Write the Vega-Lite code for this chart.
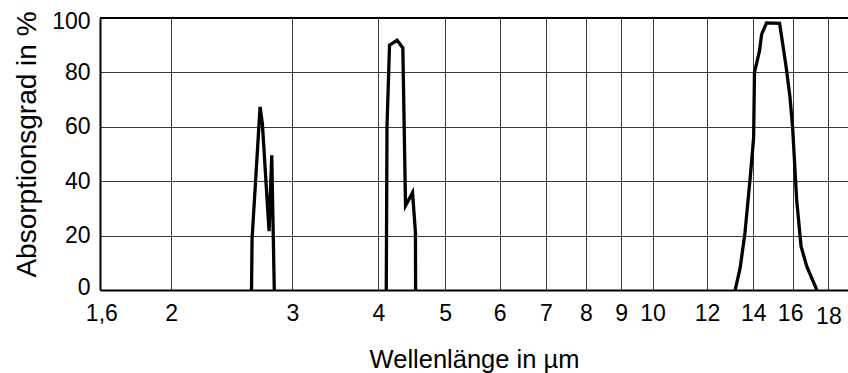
{
  "$schema": "https://vega.github.io/schema/vega-lite/v6.json",
  "autosize": {"type": "none"},
  "padding": {"left": 100, "top": 18, "right": 0, "bottom": 83},
  "width": 748,
  "height": 272,
  "background": "white",
  "config": {
    "view": {"stroke": null},
    "font": "Liberation Sans",
    "axis": {"labelFont": "Liberation Sans", "titleFont": "Liberation Sans", "labelColor": "black", "titleColor": "black", "titleFontWeight": "normal"}
  },
  "data": {
    "values": [
      {"band": "a", "wavelength": 2.617, "absorption": 0},
      {"band": "a", "wavelength": 2.622, "absorption": 19},
      {"band": "a", "wavelength": 2.693, "absorption": 67.3},
      {"band": "a", "wavelength": 2.714, "absorption": 61},
      {"band": "a", "wavelength": 2.775, "absorption": 21.6},
      {"band": "a", "wavelength": 2.800, "absorption": 49.5},
      {"band": "a", "wavelength": 2.824, "absorption": 0},
      {"band": "b", "wavelength": 4.106, "absorption": 0},
      {"band": "b", "wavelength": 4.116, "absorption": 60},
      {"band": "b", "wavelength": 4.151, "absorption": 90},
      {"band": "b", "wavelength": 4.257, "absorption": 91.8},
      {"band": "b", "wavelength": 4.340, "absorption": 89},
      {"band": "b", "wavelength": 4.379, "absorption": 31},
      {"band": "b", "wavelength": 4.483, "absorption": 35.8},
      {"band": "b", "wavelength": 4.527, "absorption": 21},
      {"band": "b", "wavelength": 4.529, "absorption": 0},
      {"band": "c", "wavelength": 13.18, "absorption": 0},
      {"band": "c", "wavelength": 13.40, "absorption": 8},
      {"band": "c", "wavelength": 13.62, "absorption": 21},
      {"band": "c", "wavelength": 13.88, "absorption": 43},
      {"band": "c", "wavelength": 14.02, "absorption": 56},
      {"band": "c", "wavelength": 14.06, "absorption": 80},
      {"band": "c", "wavelength": 14.30, "absorption": 88},
      {"band": "c", "wavelength": 14.40, "absorption": 94},
      {"band": "c", "wavelength": 14.64, "absorption": 98.2},
      {"band": "c", "wavelength": 15.29, "absorption": 98},
      {"band": "c", "wavelength": 15.42, "absorption": 92},
      {"band": "c", "wavelength": 15.65, "absorption": 81},
      {"band": "c", "wavelength": 15.83, "absorption": 71},
      {"band": "c", "wavelength": 15.97, "absorption": 60},
      {"band": "c", "wavelength": 16.19, "absorption": 33},
      {"band": "c", "wavelength": 16.43, "absorption": 16},
      {"band": "c", "wavelength": 16.75, "absorption": 8.6},
      {"band": "c", "wavelength": 17.32, "absorption": 0}
    ]
  },
  "layer": [
    {
      "mark": {"type": "rule", "color": "black", "strokeWidth": 2},
      "encoding": {"y": {"datum": 100, "type": "quantitative"}}
    },
    {
      "mark": {"type": "line", "color": "black", "strokeWidth": 3.3, "clip": true},
      "encoding": {
        "x": {
          "field": "wavelength",
          "type": "quantitative",
          "scale": {"type": "log", "domain": [1.577, 19.22], "nice": false, "zero": false},
          "axis": {
            "title": "Wellenlänge in µm",
            "titleFontSize": 25.5,
            "titleBaseline": "alphabetic",
            "titleY": 77,
            "titleX": 374,
            "values": [1.6, 2, 3, 4, 5, 6, 7, 8, 9, 10, 12, 14, 16, 18],
            "labelExpr": "replace(format(datum.value, '~g'), '.', ',')",
            "labelFontSize": 23,
            "labelPadding": {"condition": {"test": "datum.value == 18", "value": 15}, "value": 12},
            "labelOffset": {"condition": {"test": "datum.value == 1.6 || datum.value == 16", "value": -3}, "value": 0},
            "labelFlush": false,
            "labelOverlap": false,
            "ticks": false,
            "tickSize": 0,
            "domain": true,
            "domainColor": "black",
            "domainWidth": 2,
            "grid": true,
            "gridColor": "#3a3a3a",
            "gridWidth": 1,
            "gridOpacity": {"condition": {"test": "datum.value == 1.6", "value": 0}, "value": 1}
          }
        },
        "y": {
          "field": "absorption",
          "type": "quantitative",
          "scale": {"domain": [0, 100], "nice": false},
          "axis": {
            "title": "Absorptionsgrad in %",
            "titleFontSize": 28,
            "titleAngle": -90,
            "titleBaseline": "alphabetic",
            "titleAlign": "center",
            "titleX": -65,
            "titleY": 126,
            "values": [0, 20, 40, 60, 80, 100],
            "labelFontSize": 23,
            "labelPadding": 10,
            "labelOffset": {"condition": [{"test": "datum.value == 100", "value": 3}, {"test": "datum.value == 0", "value": -3}], "value": 0},
            "ticks": false,
            "tickSize": 0,
            "domain": true,
            "domainColor": "black",
            "domainWidth": 2,
            "grid": true,
            "gridColor": "#3a3a3a",
            "gridWidth": 1
          }
        },
        "detail": {"field": "band"}
      }
    }
  ]
}
